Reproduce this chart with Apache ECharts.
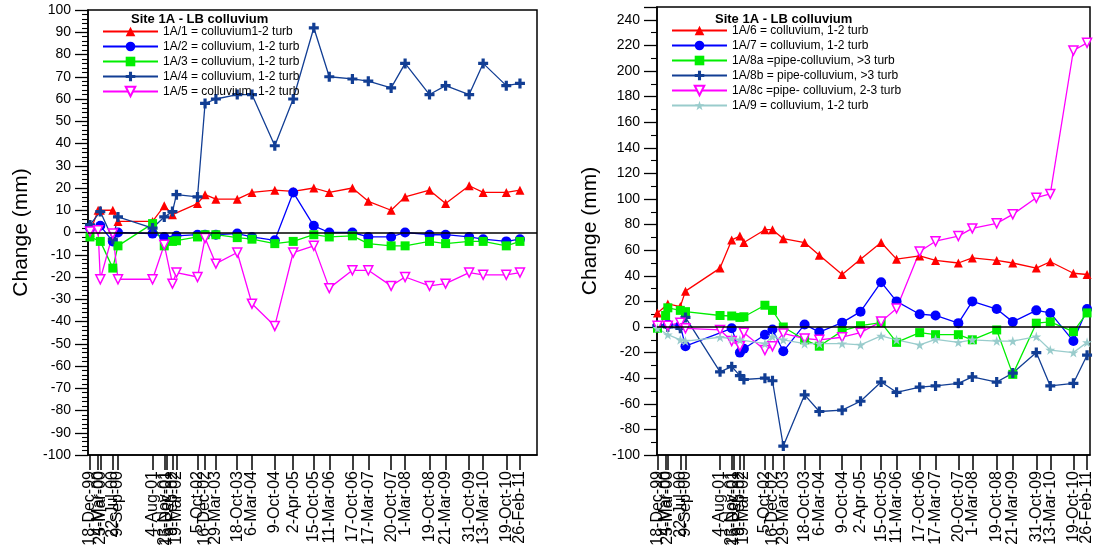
<!DOCTYPE html>
<html><head><meta charset="utf-8">
<script src="https://cdn.jsdelivr.net/npm/echarts@6/dist/echarts.min.js"></script>
<style>html,body{margin:0;padding:0;background:#fff}#c{width:1100px;height:549px}</style>
</head><body><div id="c"></div>
<script>
// ---- data ----
const dates = ['18-Dec-99','4-Mar-00','25-Mar-00','22-Jul-00','9-Sep-00','4-Aug-01','23-Nov-01','15-Dec-01','9-Feb-02','19-Mar-02','5-Oct-02','16-Dec-02','29-Mar-03','18-Oct-03','6-Mar-04','9-Oct-04','2-Apr-05','15-Oct-05','11-Mar-06','17-Oct-06','17-Mar-07','20-Oct-07','1-Mar-08','19-Oct-08','21-Mar-09','31-Oct-09','13-Mar-10','19-Oct-10','26-Feb-11'];

const leftNames = ['1A/1 = colluvium1-2 turb','1A/2 = colluvium, 1-2 turb','1A/3 = colluvium, 1-2 turb','1A/4 = colluvium, 1-2 turb','1A/5 = colluvium, 1-2 turb'];
const s1A1 = [0,10,10,10,5,5,12,null,8,null,13,17,15,15,18,19,18.5,20,18,20,14,10,16,19,13,21,18,18,19];
const s1A2 = [2,null,3,-4,0,-0.5,-2,null,null,-1.5,-1,-1,-1,-0.5,-2,-3.5,18,3,0,0,-2,-2,0,-1,-1,-2,-3,-4,-3];
const s1A3 = [-2,null,-4,-16,-6,4,-6,null,-4,-3.7,-2,-1,-1,-2.3,-3,-5,-4,-1,-2,-1.5,-5,-6,-6,-4,-5,-4,-4,-6,-4];
const s1A4 = [3.4,null,9.4,-3,7,2,7,null,9.4,17,16,58,60,62,62,39,60,92,70,69,68,65,76,62,66,62,76,66,67];
const s1A5 = [0.4,1,-21,-0.5,-21,-21,-5.5,null,-23,-18,-20,-2.5,-14,-9,-32,-42,-9,-6,-25,-17,-17,-24,-20,-24,-23,-18,-19,-19,-18];

const rightNames = ['1A/6 = colluvium, 1-2 turb','1A/7 = colluvium, 1-2 turb','1A/8a =pipe-colluvium, >3 turb','1A/8b = pipe-colluvium, >3 turb','1A/8c =pipe- colluvium, 2-3 turb','1A/9 = colluvium, 1-2 turb'];
const s1A6  = [11,null,18,16,28,46,68,null,71,66,76,76,69,66,56,41,53,66,53,55.5,52,50,54,52,50,46,51,42,41];
const s1A7  = [1,null,2,1,-15,null,-1,null,-20,-17,-6,-2,-19,2,-4,3.4,12,35,20,10,9,3,20,14,4,13,11,-11,14];
const s1A8a = [-1,9,15,13,12,9,8.6,null,7.5,8,17,13,0,-10,-15,-3,1,3.4,-12,-4.4,-6,-6,-10,-2.3,-37,3,4,-3.6,11];
const s1A8b = [1,null,0,-1,7.5,-35,-31,null,-38,-41,-40,-42,-93,-53,-66,-65,-58,-43,-51,-47,-46,-44,-39,-43,-36,-20,-46,-44,-22];
const s1A8c = [1,null,1,3.4,-1,-2.3,-11,null,-15,-4.4,-18,-15,-5,-9,-10,-8,-4.4,4.2,14.5,59,67,71,77,81,88,101,104,216,222];
const s1A9  = [-1,null,-6,-10,-11,-8,-9,null,-10,null,-13,-7.5,-10,-13,-13,-13,-14,-7,-10,-14,-9.6,-12,-10,-11,-11,-7.5,-18,-20,-12];

const titleText = 'Site 1A - LB colluvium';
const yName = 'Change (mm)';

// ---- helpers ----
const MON = {Jan:0,Feb:1,Mar:2,Apr:3,May:4,Jun:5,Jul:6,Aug:7,Sep:8,Oct:9,Nov:10,Dec:11};
function ts(s){const p=s.split('-');let y=+p[2];y+= y>50?1900:2000;return Date.UTC(y,MON[p[1]],+p[0]);}
const tickVals = dates.map(ts);
const labelMap = {}; dates.forEach((d,i)=>labelMap[tickVals[i]]=d);
const pairs = arr => arr.map((v,i)=>[tickVals[i], v]);
// label groups (split across overlaid axes so crowded first/last labels are all kept)
const n = tickVals.length;
const groupA = tickVals.filter((v,i)=> i===0 || (i>=3 && i<=n-4));
const groupB = [tickVals[1], tickVals[n-3], tickVals[n-1]];
const groupC = [tickVals[2], tickVals[n-2]];

const FONT = '"Liberation Sans", Arial, sans-serif';
const SYM = {
  cross: 'path://M3.4,0H6.6V3.4H10V6.6H6.6V10H3.4V6.6H0V3.4H3.4Z',
  tdown: 'path://M0,0H10L5,9Z',
  star: 'path://M5,0L6.2,3.6H10L6.9,5.8L8.1,9.5L5,7.2L1.9,9.5L3.1,5.8L0,3.6H3.8Z'
};
const STY = [
  {color:'#ff0000', symbol:'triangle', size:9},
  {color:'#0000ff', symbol:'circle', size:10},
  {color:'#00ee00', symbol:'rect', size:9},
  {color:'#123e94', symbol:SYM.cross, size:10},
  {color:'#ff00ff', symbol:SYM.tdown, size:9, open:true},
  {color:'#99cccc', symbol:SYM.star, size:10}
];
function mk(name, data, st, xi, yi, zero){
  const s = {
    name, type:'line', xAxisIndex:xi, yAxisIndex:yi, data:pairs(data), connectNulls:true,
    symbol:st.symbol, symbolSize:st.size, showAllSymbol:true, animation:false,
    lineStyle:{color:st.color, width:1.3},
    itemStyle: st.open ? {color:'#ffffff', borderColor:st.color, borderWidth:1.5} : {color:st.color, borderWidth:0}
  };
  if(zero){
    s.markLine = {silent:true, symbol:'none', label:{show:false}, animation:false,
      lineStyle:{color:'#000', width:1.6, type:'solid'}, data:[{yAxis:0}]};
  }
  return s;
}
const leftData = [s1A1,s1A2,s1A3,s1A4,s1A5];
const rightData = [s1A6,s1A7,s1A8a,s1A8b,s1A8c,s1A9];

const series = [];
leftData.forEach((d,i)=>series.push(mk(leftNames[i], d, STY[i], 0, 0, i===0)));
rightData.forEach((d,i)=>series.push(mk(rightNames[i], d, STY[i], 3, 1, i===0)));

function xAx(gi, minS, maxS, labelVals, main){
  return {gridIndex:gi, type:'value', position:'bottom', min:ts(minS), max:ts(maxS),
    axisLine:{show:main, onZero:false, lineStyle:{color:'#000', width:1.5}},
    axisTick:{show:main, customValues:tickVals, length:15, lineStyle:{color:'#000', width:1.5}},
    axisLabel:{customValues:labelVals, rotate:90, margin:16, color:'#000', fontSize:16, fontFamily:FONT,
      showMinLabel:true, showMaxLabel:true, hideOverlap:false,
      formatter:v=>labelMap[v]||''},
    splitLine:{show:false}};
}
function yAx(gi, min, max, interval, minorSplit){
  return {gridIndex:gi, type:'value', min, max, interval,
    name:yName, nameLocation:'middle', nameGap:56, nameRotate:90,
    nameTextStyle:{fontSize:21, color:'#000', fontFamily:FONT},
    axisLine:{show:true, onZero:false, lineStyle:{color:'#000', width:1.5}},
    axisTick:{show:true, length:13, lineStyle:{color:'#000', width:1.3}},
    minorTick:{show:true, splitNumber:minorSplit, length:6, lineStyle:{color:'#000', width:1.1}},
    axisLabel:{color:'#000', fontSize:14, fontFamily:FONT, margin:17, showMinLabel:true, showMaxLabel: gi===0,
      formatter:v=> (v>max-0.01 && gi===1) ? '' : String(v)},
    splitLine:{show:false}, minorSplitLine:{show:false}};
}

const L = ['29-Nov-99','7-Aug-11'], R = ['13-Dec-99','26-Mar-11'];
const option = {
  backgroundColor:'#fff',
  animation:false,
  title:[
    {text:titleText, left:126, top:8, textStyle:{fontSize:13, fontWeight:'bold', color:'#000', fontFamily:FONT}},
    {text:titleText, left:710, top:8, textStyle:{fontSize:13, fontWeight:'bold', color:'#000', fontFamily:FONT}}
  ],
  legend:[
    {data:leftNames, orient:'vertical', left:97, top:20, itemWidth:55, itemHeight:12, itemGap:2,
     textStyle:{fontSize:12, color:'#000', fontFamily:FONT, lineHeight:13}, selectedMode:false},
    {data:rightNames, orient:'vertical', left:666, top:19, itemWidth:55, itemHeight:12, itemGap:2,
     textStyle:{fontSize:12, color:'#000', fontFamily:FONT, lineHeight:13}, selectedMode:false}
  ],
  grid:[
    {left:88, top:10, width:449, height:445, show:true, borderColor:'#000', borderWidth:1.5, backgroundColor:'transparent'},
    {left:657, top:7, width:433, height:448, show:true, borderColor:'#000', borderWidth:1.5, backgroundColor:'transparent'}
  ],
  xAxis:[
    xAx(0,L[0],L[1],groupA,true), xAx(0,L[0],L[1],groupB,false), xAx(0,L[0],L[1],groupC,false),
    xAx(1,R[0],R[1],groupA,true), xAx(1,R[0],R[1],groupB,false), xAx(1,R[0],R[1],groupC,false)
  ],
  yAxis:[yAx(0,-100,100,10,5), yAx(1,-100,250,20,2)],
  series
};
const chart = echarts.init(document.getElementById('c'), null, {renderer:'canvas'});
chart.setOption(option);
</script></body></html>
